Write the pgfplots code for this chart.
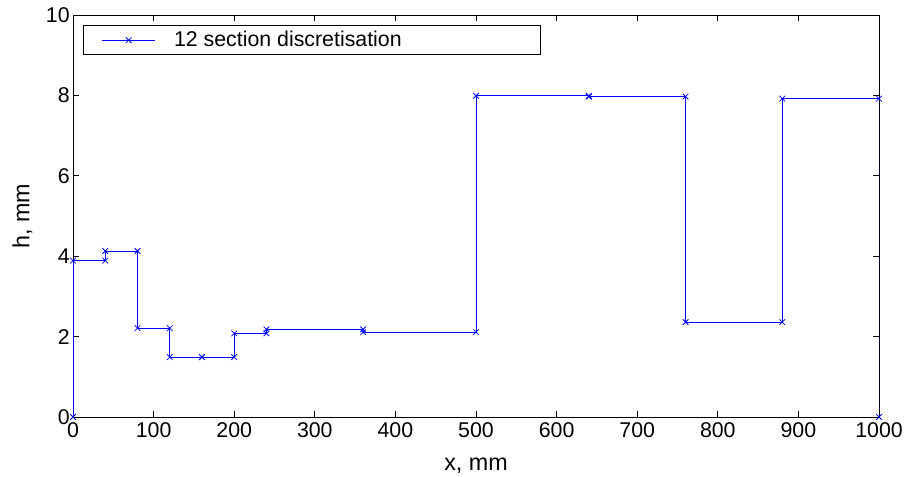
\documentclass[border=0pt]{standalone}
\usepackage{pgfplots}
\pgfplotsset{compat=1.18}
\usepackage{fontspec}
\setmainfont{Liberation Sans}
\definecolor{mblue}{RGB}{0,0,255}
\begin{document}
\begin{tikzpicture}
\begin{axis}[
  scale only axis,
  width=604.5pt, height=301.5pt,
  xmin=0, xmax=1000, ymin=0, ymax=10,
  xtick={0,100,...,1000}, ytick={0,2,...,10},
  tick align=inside,
  major tick length=4.5pt,
  tick style={black, line width=0.5pt},
  axis line style={black, line width=0.6pt},
  /pgf/number format/assume math mode=true,
  /pgf/number format/1000 sep={},
  tick label style={font=\fontsize{16}{19}\selectfont},
  xticklabel style={yshift=-1pt},
  yticklabel style={xshift=1pt},
  label style={font=\fontsize{17.5}{20}\selectfont},
  xlabel={x, mm}, ylabel={h, mm},
  xlabel style={at={(rel axis cs:0.5,0)}, anchor=base, yshift=-39.75pt},
  ylabel style={at={(rel axis cs:0,0.5)}, anchor=center, yshift=38pt},
  legend style={at={(rel axis cs:0.0124,0.975)}, anchor=north west, draw=black, line width=0.6pt,
    font=\fontsize{16}{19}\selectfont, inner xsep=4pt, inner ysep=2.5pt},
  legend cell align=left,
  legend image code/.code={
    \path[draw=none] (-10pt,0pt) -- (52pt,0pt);
    \draw[draw=mblue, line width=0.6pt] (0pt,0pt) -- (40pt,0pt);
    \draw[draw=mblue, line width=0.6pt] plot[mark=x, mark size=3pt] coordinates {(20pt,0pt)};},
]
\addplot[draw=mblue, color=mblue, line width=0.7pt, mark=x, mark size=3pt, mark options={draw=mblue, line width=0.6pt, solid}] coordinates {
(0,0) (0,3.89) (40,3.89) (40,4.13) (80,4.13) (80,2.21) (120,2.21) (120,1.49)
(160,1.49) (160,1.49) (200,1.49) (200,2.08) (240,2.08) (240,2.18) (360,2.18)
(360,2.11) (500,2.11) (500,7.99) (640,7.99) (640,7.97) (760,7.97) (760,2.36)
(880,2.36) (880,7.92) (1000,7.92) (1000,0)
};
\addlegendentry{12 section discretisation\hspace*{98pt}}
\end{axis}
\pgfresetboundingbox
\path[use as bounding box] (current axis.south west) ++(-54.75pt,-45pt) rectangle ([xshift=19.5pt,yshift=11.25pt]current axis.north east);
\end{tikzpicture}
\end{document}
